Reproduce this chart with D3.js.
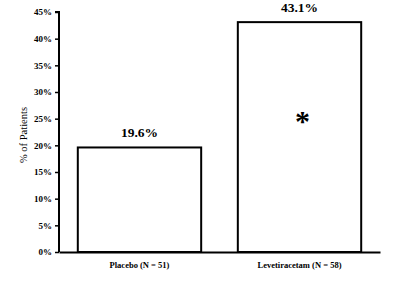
<!DOCTYPE html>
<html>
<head>
<meta charset="utf-8">
<script src="https://cdn.jsdelivr.net/npm/d3@7"></script>
<style>
  body { margin: 0; background: #fff; }
  svg text { font-family: "Liberation Serif", "Times New Roman", serif; fill: #000; }
</style>
</head>
<body>
<div id="container"></div>
<script>
const categories = ["Placebo (N = 51)", "Levetiracetam (N = 58)"];
const values = [19.6, 43.1];
const valueLabels = ["19.6%", "43.1%"];
const yTicks = [0, 5, 10, 15, 20, 25, 30, 35, 40, 45];
const marked = ["Levetiracetam (N = 58)"];

const width = 400, height = 296;
const margin = {top: 12, right: 20, bottom: 44, left: 59};

const svg = d3.select("#container")
  .append("svg")
  .attr("width", width)
  .attr("height", height);

const x = d3.scaleBand()
  .domain(categories)
  .range([margin.left, width - margin.right])
  .paddingInner(0.229)
  .paddingOuter(0.1175);

const y = d3.scaleLinear()
  .domain([0, 45])
  .range([height - margin.bottom, margin.top]);

// bars
svg.selectAll("rect.bar")
  .data(categories)
  .join("rect")
  .attr("class", "bar")
  .attr("x", d => x(d))
  .attr("y", (d, i) => y(values[i]))
  .attr("width", x.bandwidth())
  .attr("height", (d, i) => y(0) - y(values[i]))
  .attr("fill", "#fff")
  .attr("stroke", "#000")
  .attr("stroke-width", 2);

// value labels
svg.selectAll("text.val")
  .data(categories)
  .join("text")
  .attr("class", "val")
  .attr("x", d => x(d) + x.bandwidth() / 2)
  .attr("y", (d, i) => y(values[i]) - 10)
  .attr("text-anchor", "middle")
  .style("font-size", "13.5px")
  .style("font-weight", "bold")
  .text((d, i) => valueLabels[i]);

// significance marker
svg.selectAll("text.star")
  .data(marked)
  .join("text")
  .attr("class", "star")
  .attr("x", d => x(d) + x.bandwidth() / 2 + 3)
  .attr("y", (d) => y(values[categories.indexOf(d)] / 2) - 6)
  .attr("text-anchor", "middle")
  .style("font-size", "30px")
  .style("font-weight", "bold")
  .text("*");

// y axis
const yAxis = svg.append("g")
  .attr("transform", `translate(${margin.left},0)`)
  .call(d3.axisLeft(y).tickValues(yTicks).tickFormat(d => d + "%").tickSize(4).tickPadding(3));
yAxis.select(".domain").attr("stroke-width", 2).attr("d", `M-4,${y(45)}H0V${y(0)}`);
yAxis.selectAll(".tick line").attr("stroke-width", 1.5);
yAxis.selectAll("text")
  .style("font-family", "Liberation Serif, serif")
  .style("font-size", "9px")
  .style("font-weight", "bold");

// x axis
const xAxis = svg.append("g")
  .attr("transform", `translate(0,${y(0)})`)
  .call(d3.axisBottom(x).tickSize(0).tickPadding(10));
xAxis.select(".domain").attr("stroke-width", 2);
xAxis.selectAll("text")
  .style("font-family", "Liberation Serif, serif")
  .style("font-size", "8.5px")
  .style("font-weight", "bold");

// y title
svg.append("text")
  .attr("transform", `translate(27,${(y(0) + y(45)) / 2 + 3}) rotate(-90)`)
  .attr("text-anchor", "middle")
  .style("font-size", "10.5px")
  .text("% of Patients");
</script>
</body>
</html>
